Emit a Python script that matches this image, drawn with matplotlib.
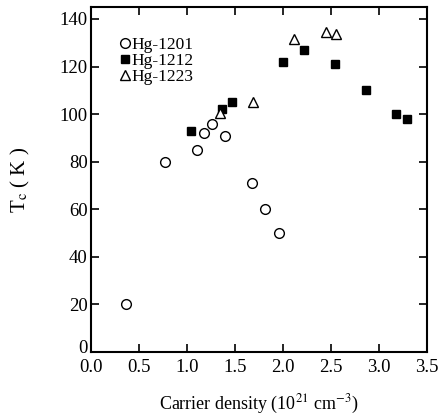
import matplotlib
matplotlib.use("Agg")
import matplotlib.pyplot as plt
from matplotlib.transforms import ScaledTranslation

plt.rcParams['font.family'] = ['Liberation Serif', 'DejaVu Serif']
plt.rcParams['mathtext.fontset'] = 'stix'

# Hg-1201
x_1201 = [0.37, 0.77, 1.11, 1.18, 1.26, 1.40, 1.68, 1.82, 1.96]
tc_1201 = [20, 80, 85, 92, 96, 91, 71, 60, 50]

# Hg-1212
x_1212 = [1.05, 1.37, 1.47, 2.00, 2.22, 2.54, 2.865, 3.18, 3.29]
tc_1212 = [93, 102, 105, 122, 127, 121, 110, 100, 98]

# Hg-1223
x_1223 = [1.345, 1.69, 2.12, 2.455, 2.55]
tc_1223 = [100.5, 105, 131.5, 134.5, 133.5]

x_ticks = [0.0, 0.5, 1.0, 1.5, 2.0, 2.5, 3.0, 3.5]
y_ticks = [0, 20, 40, 60, 80, 100, 120, 140]

fig = plt.figure(figsize=(4.4, 4.16), dpi=100)
ax = fig.add_axes([0.206, 0.154, 0.764, 0.829])

ax.plot(x_1201, tc_1201, 'o', mfc='white', mec='black', mew=1.0, ms=7, label='Hg-1201')
ax.plot(x_1212, tc_1212, 's', mfc='black', mec='black', ms=6, label='Hg-1212')
ax.plot(x_1223, tc_1223, '^', mfc='white', mec='black', mew=1.0, ms=7, label='Hg-1223')

ax.set_xlim(0, 3.5)
ax.set_ylim(0, 145)
ax.set_xticks(x_ticks)
ax.set_xticklabels([f"{v:.1f}" for v in x_ticks])
ax.set_yticks(y_ticks)

ax.tick_params(direction='in', top=True, right=True, length=6, width=1.2,
               labelsize=13.5)
ax.tick_params(axis='x', pad=5)
ax.tick_params(axis='y', pad=2)
for s in ax.spines.values():
    s.set_linewidth(1.5)

# the "0" on the y axis sits a little high, as in the original, so it clears "0.0"
fig.canvas.draw()
zero_lbl = ax.get_yticklabels()[0]
zero_lbl.set_transform(zero_lbl.get_transform() + ScaledTranslation(0, 4 / 72, fig.dpi_scale_trans))

ax.set_xlabel(r'Carrier density (10$^{21}$ cm$^{-3}$)', fontsize=13, labelpad=12)
ax.set_ylabel(r'T$_{\rm c}$ ( K )', fontsize=15, labelpad=20)

ax.legend(loc='upper left', frameon=False, fontsize=12.5, handlelength=0.6,
          handletextpad=0.1, labelspacing=0.0, borderaxespad=0.0,
          bbox_to_anchor=(0.065, 0.935))

fig.savefig('out.png', dpi=100)
